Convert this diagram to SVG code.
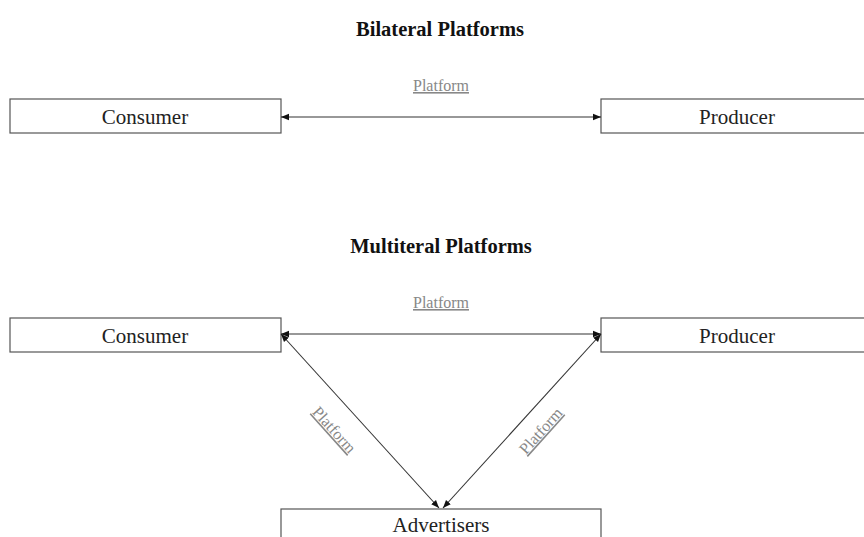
<svg xmlns="http://www.w3.org/2000/svg" width="864" height="537" viewBox="0 0 864 537">
<style>
.box{fill:#fff;stroke:#555;stroke-width:1.2}
.lbl{font-family:"Liberation Serif",serif;font-size:21px;fill:#222;text-anchor:middle}
.title{font-family:"Liberation Serif",serif;font-size:20.5px;font-weight:bold;fill:#111;text-anchor:middle}
.plat{font-family:"Liberation Serif",serif;font-size:16px;fill:#888;text-anchor:middle;text-decoration:underline}
.conn{stroke:#333;stroke-width:1.1;fill:none}
</style>
<defs>
<marker id="ah" viewBox="0 0 10 10" refX="10" refY="5" markerWidth="8" markerHeight="8" orient="auto-start-reverse" markerUnits="userSpaceOnUse">
<path d="M0,1 L10,5 L0,9 z" fill="#111"/>
</marker>
</defs>
<text class="title" x="440" y="36">Bilateral Platforms</text>
<text class="title" x="441" y="253">Multiteral Platforms</text>
<g id="b-consumer"><rect class="box" x="10" y="99" width="271" height="34"/><text class="lbl" x="145" y="124">Consumer</text></g>
<g id="b-producer"><rect class="box" x="601" y="99" width="270" height="34"/><text class="lbl" x="737" y="124">Producer</text></g>
<g id="m-consumer"><rect class="box" x="10" y="318" width="271" height="34"/><text class="lbl" x="145" y="343">Consumer</text></g>
<g id="m-producer"><rect class="box" x="601" y="318" width="270" height="34"/><text class="lbl" x="737" y="343">Producer</text></g>
<g id="m-advertisers"><rect class="box" x="281" y="509" width="320" height="40"/><text class="lbl" x="441" y="532">Advertisers</text></g>
<g id="connectors">
<line class="conn" x1="281" y1="117" x2="601" y2="117" marker-start="url(#ah)" marker-end="url(#ah)"/>
<text class="plat" x="441" y="91">Platform</text>
<line class="conn" x1="281" y1="334" x2="601" y2="334" marker-start="url(#ah)" marker-end="url(#ah)"/>
<text class="plat" x="441" y="308">Platform</text>
<line class="conn" x1="281" y1="334" x2="439" y2="508" marker-start="url(#ah)" marker-end="url(#ah)"/>
<line class="conn" x1="601" y1="334" x2="443" y2="508" marker-start="url(#ah)" marker-end="url(#ah)"/>
<text class="plat" transform="translate(334,430) rotate(48)" x="0" y="5">Platform</text>
<text class="plat" transform="translate(541,431) rotate(-48)" x="0" y="5">Platform</text>
</g>
</svg>
